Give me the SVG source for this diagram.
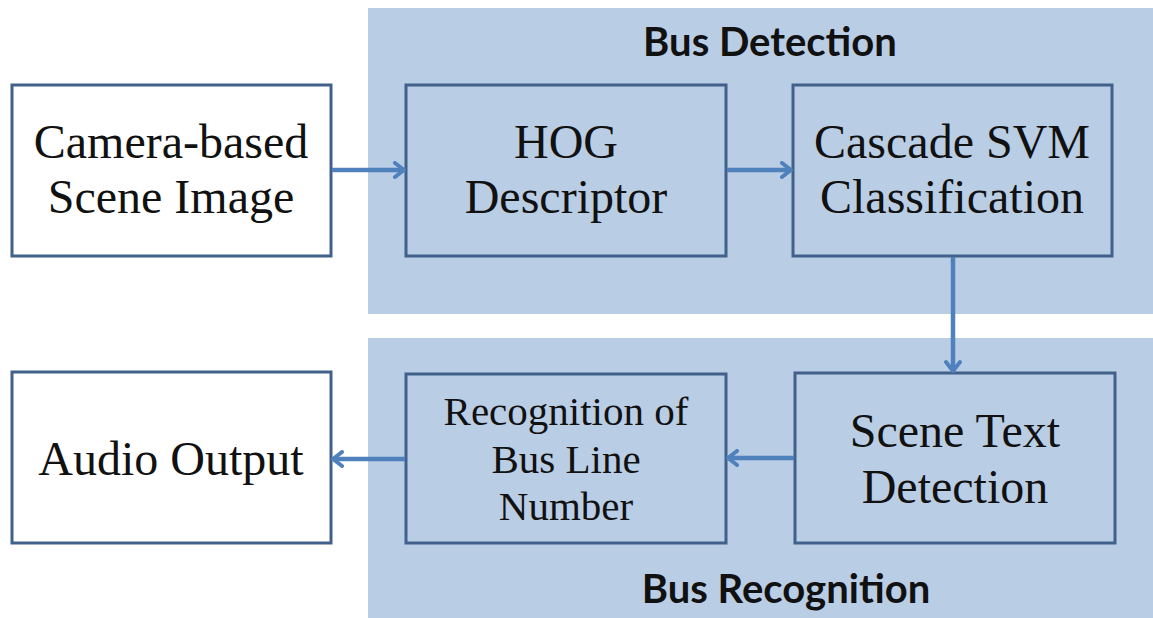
<svg xmlns="http://www.w3.org/2000/svg" width="1153" height="618" viewBox="0 0 1153 618">
  <defs>
    <marker id="chev" viewBox="0 0 14 18" refX="12" refY="9" markerWidth="14" markerHeight="18" markerUnits="userSpaceOnUse" orient="auto">
      <path d="M3,2 L12,9 L3,16" fill="none" stroke="#4f81bd" stroke-width="4" stroke-linecap="round" stroke-linejoin="round"/>
    </marker>
    <style>
      .panel { fill: #b9cde5; }
      .box { fill: none; stroke: #41618a; stroke-width: 3; }
      .box.white { fill: #ffffff; }
      .lbl { font-family: 'Liberation Serif', serif; fill: #111; text-anchor: middle; }
      .big { font-size: 48px; }
      .small { font-size: 41px; }
      .title { font-family: Lato, 'Liberation Sans', sans-serif; font-weight: bold; font-size: 40px; fill: #111; text-anchor: middle; }
      .conn { fill: none; stroke: #4f81bd; stroke-width: 4.5; marker-end: url(#chev); }
    </style>
  </defs>

  <rect width="1153" height="618" fill="#ffffff"/>

  <!-- stage panels -->
  <g id="panel-detection">
    <rect class="panel" x="368" y="8" width="785" height="306"/>
    <text class="title" x="770" y="56">Bus Detection</text>
  </g>
  <g id="panel-recognition">
    <rect class="panel" x="368" y="338" width="785" height="280"/>
    <text class="title" x="786" y="603">Bus Recognition</text>
  </g>

  <!-- processing blocks -->
  <g id="camera">
    <rect class="box white" x="12" y="85" width="319" height="171"/>
    <text class="lbl big" x="171" y="158">Camera-based</text>
    <text class="lbl big" x="171" y="213">Scene Image</text>
  </g>
  <g id="hog">
    <rect class="box" x="406" y="85" width="320" height="171"/>
    <text class="lbl big" x="566" y="158">HOG</text>
    <text class="lbl big" x="566" y="213">Descriptor</text>
  </g>
  <g id="svm">
    <rect class="box" x="793" y="85" width="319" height="171"/>
    <text class="lbl big" x="952" y="158">Cascade SVM</text>
    <text class="lbl big" x="952" y="213">Classification</text>
  </g>
  <g id="scene-text">
    <rect class="box" x="795" y="373" width="320" height="170"/>
    <text class="lbl big" x="955" y="447">Scene Text</text>
    <text class="lbl big" x="955" y="503">Detection</text>
  </g>
  <g id="line-number">
    <rect class="box" x="406" y="374" width="320" height="169"/>
    <text class="lbl small" x="566" y="425">Recognition of</text>
    <text class="lbl small" x="566" y="473">Bus Line</text>
    <text class="lbl small" x="566" y="520">Number</text>
  </g>
  <g id="audio">
    <rect class="box white" x="12" y="372" width="319" height="171"/>
    <text class="lbl big" x="171" y="475">Audio Output</text>
  </g>

  <!-- flow connectors -->
  <g id="connectors">
    <line class="conn" x1="332" y1="170" x2="404" y2="170"/>
    <line class="conn" x1="727" y1="170" x2="791" y2="170"/>
    <line class="conn" x1="953" y1="257" x2="953" y2="371"/>
    <line class="conn" x1="794" y1="458" x2="728" y2="458"/>
    <line class="conn" x1="405" y1="459" x2="333" y2="459"/>
  </g>
</svg>
